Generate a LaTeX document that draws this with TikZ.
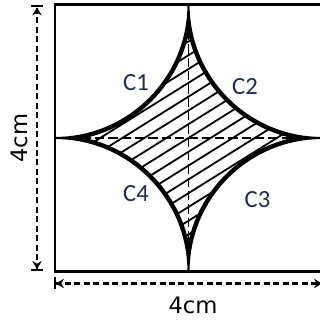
\documentclass[tikz,border=0pt]{standalone}
\usepackage{fontspec}
\setmainfont{DejaVu Sans}
\newfontfamily\lblfont{Carlito}
\usetikzlibrary{arrows.meta}
\definecolor{lblcol}{RGB}{35,45,75}
\begin{document}
\begin{tikzpicture}[x=0.75pt,y=0.75pt,
  frame/.style={line width=2pt},
  arcline/.style={line width=1.6pt},
  bandline/.style={line width=5pt},
  hatchline/.style={line width=1.35pt},
  centerline/.style={line width=1.1pt, dash pattern=on 7pt off 3pt},
  dimline/.style={line width=1.9pt, dash pattern=on 4.5pt off 2.6pt,
    {Bar[width=9pt,line width=1.4pt]Stealth[length=6pt,width=7pt]}-{Stealth[length=6pt,width=7pt]Bar[width=9pt,line width=1.4pt]}},
  clabel/.style={font=\lblfont\fontsize{18.5}{21}\selectfont, text=lblcol, inner sep=0pt},
  dimlabel/.style={font=\fontsize{17}{19}\selectfont, inner sep=0pt},
  starshape/.style={insert path={(T) arc[start angle=180,end angle=270,radius=100.125pt]
      arc[start angle=90,end angle=180,radius=100.125pt]
      arc[start angle=0,end angle=90,radius=100.125pt]
      arc[start angle=270,end angle=360,radius=100.125pt] -- cycle}}]
\useasboundingbox (0,0) rectangle (320,322);
\clip (0,0) rectangle (320,322);
% square geometry (pixel units)
\coordinate (O) at (188.5,184);
\coordinate (BL) at (55,50.5);
\coordinate (TR) at (322,317.5);
\coordinate (T) at (188.5,317.5);
\coordinate (R) at (322,184);
\coordinate (B) at (188.5,50.5);
\coordinate (L) at (55,184);
% hatching and centre lines inside the star
\begin{scope}
  \clip[starshape];
  \foreach \i in {-16,...,16} {
    \draw[hatchline, shift={(O)}]
      ({\i*11.7*(-0.5299)-250*0.8480},{\i*11.7*0.8480-250*0.5299})
      -- ++({500*0.8480},{500*0.5299});
  }
  \draw[centerline] (L) -- (R);
  \draw[centerline] (T) -- (B);
  \draw[bandline, starshape];
\end{scope}
\draw[arcline, starshape];
% frame
\draw[frame] (BL) rectangle (TR);
% dimensions
\coordinate (dv1) at (37,51);
\coordinate (dv2) at (37,316.5);
\coordinate (dh1) at (54,38.5);
\coordinate (dh2) at (324,38.5);
\draw[dimline] (dv1) -- (dv2);
\draw[dimline] (dh1) -- (dh2);
\node[dimlabel, rotate=90] (dimv) at (19.5,184) {4cm};
\node[dimlabel] (dimh) at (193,16.5) {4cm};
% labels
\node[clabel] (c1) at (136,239.5) {C1};
\node[clabel] (c2) at (245,235) {C2};
\node[clabel] (c3) at (257.5,122.5) {C3};
\node[clabel] (c4) at (136,128.5) {C4};
\end{tikzpicture}
\end{document}
